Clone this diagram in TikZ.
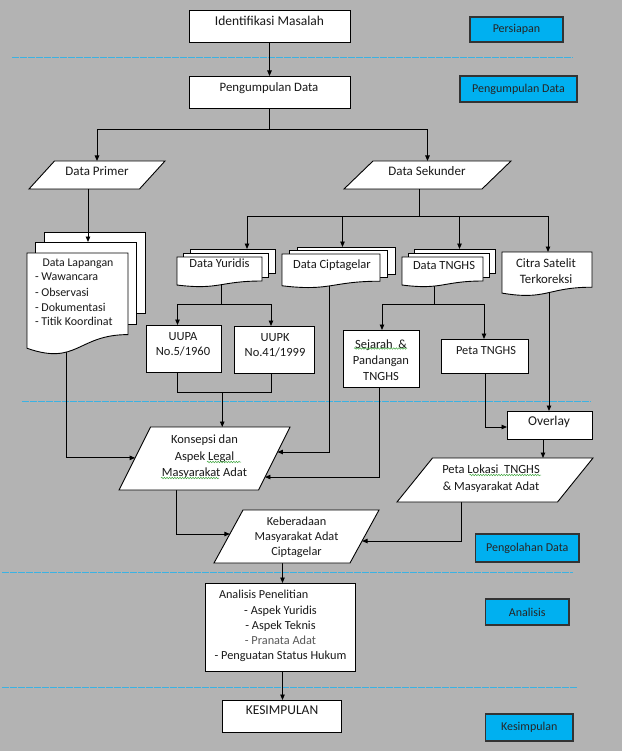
\documentclass[tikz,border=0pt]{standalone}
\usepackage{fontspec}
\setmainfont{Carlito}
\usetikzlibrary{arrows.meta,decorations.pathmorphing,calc}
\pgfdeclarelayer{bglayer}
\pgfdeclarelayer{edgelayer}
\pgfsetlayers{bglayer,edgelayer,main}
\definecolor{bggray}{RGB}{179,179,179}
\definecolor{cyanlbl}{RGB}{0,176,240}
\definecolor{sepblue}{RGB}{60,178,226}
\definecolor{squiggreen}{RGB}{70,170,70}
\newcommand\fsz[2]{\fontsize{#1}{#2}\selectfont}
\newcommand\docpath[1]{\path[shp] (#1.north west) -- (#1.north east) -- ($(#1.north east)!0.8!(#1.south east)$) .. controls ($(#1.north)!0.8!(#1.south)$) and ($(#1.north)!1.107!(#1.south)$) .. ($(#1.north west)!0.934!(#1.south west)$) -- cycle;}
\newcommand\backpage[3]{\path[shp] ($(#1.north west)+(#2,-#3)$) rectangle ($(#1.north east)!0.8!(#1.south east)+(#2,-#3)$);}
\newcommand\parapath[2]{\coordinate (#1-tl) at ($(#1.north west)+(#2,0)$);\coordinate (#1-br) at ($(#1.south east)+(-#2,0)$);\path[shp] (#1-tl) -- (#1.north east) -- (#1-br) -- (#1.south west) -- cycle;}
\begin{document}
\begin{tikzpicture}[x=1pt,y=-1pt,
  shp/.style={draw=black, fill=white, line width=0.9pt},
  bnode/.style={anchor=north west, inner sep=0pt, outer sep=0pt},
  wbox/.style={bnode, shp},
  lbl/.style={bnode, draw=black!80, fill=cyanlbl, line width=1.2pt, font=\fsz{12}{14}, text=black!85},
  txt/.style={inner sep=0pt, outer sep=0pt, anchor=mid, font=\fsz{12.5}{15}, text=black!90},
  ltxt/.style={txt, anchor=mid west},
  mtxt/.style={txt, anchor=center, align=center},
  conn/.style={draw=black, line width=0.9pt},
  arr/.style={conn, -{Triangle[length=5.5pt,width=4.5pt]}},
  sep/.style={draw=sepblue, line width=1.1pt, dash pattern=on 7pt off 1pt},
  squig/.style={draw=squiggreen, line width=0.5pt, decorate, decoration={snake, segment length=2.6pt, amplitude=0.8pt}}]
\useasboundingbox (0,0) rectangle (622,751);
\begin{pgfonlayer}{bglayer}
  \fill[bggray] (0,0) rectangle (622,751);
  \draw[sep] (12,57.5) -- (573,57.5);
  \draw[sep] (22,401.5) -- (591,401.5);
  \draw[sep] (2,572.5) -- (573,572.5);
  \draw[sep] (2,687.5) -- (577,687.5);
\end{pgfonlayer}

% rectangles
\node[wbox, minimum width=161, minimum height=32] (idm) at (189,10) {};
\node[wbox, minimum width=161, minimum height=32] (pgd) at (189,76) {};
\node[wbox, minimum width=75, minimum height=47] (uupa) at (146,325) {};
\node[wbox, minimum width=80, minimum height=47] (uupk) at (234,326) {};
\node[wbox, minimum width=76, minimum height=57] (sej) at (343,330) {};
\node[wbox, minimum width=87, minimum height=34] (peta) at (441,339) {};
\node[wbox, minimum width=85, minimum height=28] (ovl) at (507,411) {};
\node[wbox, minimum width=150, minimum height=88] (ana) at (205,583) {};
\node[wbox, minimum width=119, minimum height=32] (kes) at (222,700) {};

% stage labels
\node[lbl, minimum width=93, minimum height=25] (l-per) at (470,17) {Persiapan};
\node[lbl, minimum width=117, minimum height=26] (l-pgd) at (460,76) {Pengumpulan Data};
\node[lbl, minimum width=103.5, minimum height=28] (l-pol) at (475.5,534) {Pengolahan Data};
\node[lbl, minimum width=83.5, minimum height=26] (l-ana) at (485.5,599) {Analisis};
\node[lbl, minimum width=87.5, minimum height=27] (l-kes) at (485.5,714) {Kesimpulan};

% parallelograms
\node[bnode, minimum width=136, minimum height=28] (dp) at (29,161) {};
\parapath{dp}{25.5}
\node[bnode, minimum width=167, minimum height=28] (ds) at (344,161) {};
\parapath{ds}{29}
\node[bnode, minimum width=171, minimum height=63] (kon) at (119,427) {};
\parapath{kon}{31.5}
\node[bnode, minimum width=196, minimum height=44] (pl) at (397,458) {};
\parapath{pl}{35.5}
\node[bnode, minimum width=165, minimum height=53] (keb) at (214,510) {};
\parapath{keb}{29}

% documents
\node[bnode, minimum width=101, minimum height=102] (lap) at (27,253) {};
\backpage{lap}{17}{21}\backpage{lap}{8.5}{10.5}\docpath{lap}
\node[bnode, minimum width=85, minimum height=30] (yur) at (177,257) {};
\backpage{yur}{13}{8}\backpage{yur}{6.5}{4}\docpath{yur}
\node[bnode, minimum width=98, minimum height=34] (cip) at (282,254) {};
\backpage{cip}{15}{7}\backpage{cip}{7.5}{3.5}\docpath{cip}
\node[bnode, minimum width=81, minimum height=30] (tng) at (402,257) {};
\backpage{tng}{12}{8}\backpage{tng}{6}{4}\docpath{tng}
\node[bnode, minimum width=90, minimum height=44] (cit) at (502,252) {};
\docpath{cit}

% connectors
\begin{pgfonlayer}{edgelayer}
  \draw[arr] (idm.south) -- (pgd.north);
  \draw[arr] (pgd.south) -- ++(0,21) -| (dp.north);
  \draw[arr] (pgd.south) -- ++(0,21) -| (ds.north);
  \coordinate (ds-o) at ($(ds.south)+(-8,0)$);
  \draw[arr] (ds-o) -- ++(0,27) -| ($(yur.north west)+(70,-8)$);
  \draw[arr] (ds-o) -- ++(0,27) -| ($(cip.north west)+(60.5,-7)$);
  \draw[arr] (ds-o) -- ++(0,27) -| ($(tng.north west)+(57.5,-8)$);
  \draw[arr] (ds-o) -- ++(0,27) -| ($(cit.north)+(1,0)$);
  \coordinate (yur-o) at ($(yur.center)+(1.5,0)$);
  \draw[arr] (yur-o) -- ++(0,32) -| ($(uupa.north)+(-6,0)$);
  \draw[arr] (yur-o) -- ++(0,32) -| ($(uupk.north)+(-3,0)$);
  \draw[conn] ($(uupa.south)+(-6,0)$) -- ++(0,20) -| ($(uupk.south)+(-3,0)$);
  \draw[arr] ($(uupa.south)!0.5!(uupk.south)+(-6.5,20)$) coordinate (uu-j) -- (uu-j |- kon.north);
  \draw[arr] ($(lap.center)+(-11.5,0)$) |- ($(kon-tl)!0.49!(kon.south west)$);
  \draw[arr] ($(cip.center)+(-1.5,0)$) |- ($(kon.north east)!0.397!(kon-br)$);
  \draw[arr] ($(sej.center)+(-2,0)$) |- ($(kon.north east)!0.794!(kon-br)$);
  \coordinate (tng-o) at ($(tng.center)+(-8.5,0)$);
  \draw[arr] (tng-o) -- ++(0,32) -| ($(sej.north)+(1,0)$);
  \draw[arr] (tng-o) -- ++(0,32) -| ($(peta.north)+(-0.5,0)$);
  \draw[arr] ($(peta.center)+(1,0)$) |- ($(ovl.west)+(0,2)$);
  \draw[arr] ($(cit.center)+(2,0)$) coordinate (c-o) -- (c-o |- ovl.north);
  \draw[arr] ($(ovl.center)+(-6.5,0)$) coordinate (o-o) -- (o-o |- pl.north);
  \draw[arr] ($(kon.center)+(-28.5,0)$) |- ($(keb-tl)!0.453!(keb.south west)$);
  \draw[arr] ($(pl.center)+(-34,0)$) |- ($(keb.north east)!0.585!(keb-br)$);
  \draw[arr] ($(keb.center)+(-14,0)$) coordinate (k-o) -- (k-o |- ana.north);
  \draw[arr] ($(ana.center)+(2.5,0)$) coordinate (a-o) -- (a-o |- kes.north);
\end{pgfonlayer}
\draw[arr] ($(dp.south west)+(59,0)$) -- ($(lap.north west)+(61,-11)$);

% texts
\node[txt, font=\fsz{13.5}{16}] (idm-t) at (269.5,23) {Identifikasi Masalah};
\node[txt, font=\fsz{12.8}{15}] (pgd-t) at (269,89) {Pengumpulan Data};
\node[txt, font=\fsz{13}{15}] (dp-t) at (97,173) {Data Primer};
\node[txt, font=\fsz{13}{15}] (ds-t) at (427,173) {Data Sekunder};
\node[txt, font=\fsz{11.8}{14}] (lap-t) at (78,264) {Data Lapangan};
\node[ltxt, font=\fsz{12}{14}] (lap-1) at (35,278) {- Wawancara};
\node[ltxt, font=\fsz{12}{14}] (lap-2) at (35,294) {- Observasi};
\node[ltxt, font=\fsz{12}{14}] (lap-3) at (35,309) {- Dokumentasi};
\node[ltxt, font=\fsz{12}{14}] (lap-4) at (35,323) {- Titik Koordinat};
\node[txt] (yur-t) at (219.5,265) {Data Yuridis};
\node[txt] (cip-t) at (332,266) {Data Ciptagelar};
\node[txt] (tng-t) at (444,267) {Data TNGHS};
\node[mtxt, font=\fsz{12.8}{16}] (cit-t) at (546,271) {Citra Satelit\\Terkoreksi};
\node[mtxt] (uupa-t) at (183,344.5) {UUPA\\No.5/1960};
\node[mtxt] (uupk-t) at (275,345.5) {UUPK\\No.41/1999};
\node[mtxt, font=\fsz{12.5}{16}] (sej-t) at (381,360) {Sejarah\ \ \&\\Pandangan\\TNGHS};
\node[txt, font=\fsz{12.3}{15}] (peta-t) at (486,352) {Peta TNGHS};
\node[txt, font=\fsz{13.5}{16}] (ovl-t) at (549,423) {Overlay};
\node[mtxt, font=\fsz{12.5}{16.5}] (kon-t) at (204.5,457) {Konsepsi dan\\Aspek Legal\\Masyarakat Adat};
\node[mtxt, font=\fsz{12.5}{17}] (pl-t) at (491,478.5) {Peta Lokasi\ \ TNGHS\\\& Masyarakat Adat};
\node[mtxt, font=\fsz{12.3}{15}] (keb-t) at (296.5,537) {Keberadaan\\Masyarakat Adat\\Ciptagelar};
\node[ltxt, font=\fsz{12.2}{15}] (ana-h) at (219,596) {Analisis Penelitian};
\node[mtxt, font=\fsz{12.3}{15}] (ana-t) at (280.5,633.5) {- Aspek Yuridis\\- Aspek Teknis\\\textcolor{black!65}{- Pranata Adat}\\- Penguatan Status Hukum};
\node[txt, font=\fsz{13.5}{16}] (kes-t) at (282,712) {KESIMPULAN};

% spelling marks
\draw[squig] (354,348.5) -- (407,348.5);
\draw[squig] (207,462) -- (241,462);
\draw[squig] (161,478) -- (219,478);
\draw[squig] (469.5,475) -- (541,475);
\end{tikzpicture}
\end{document}
